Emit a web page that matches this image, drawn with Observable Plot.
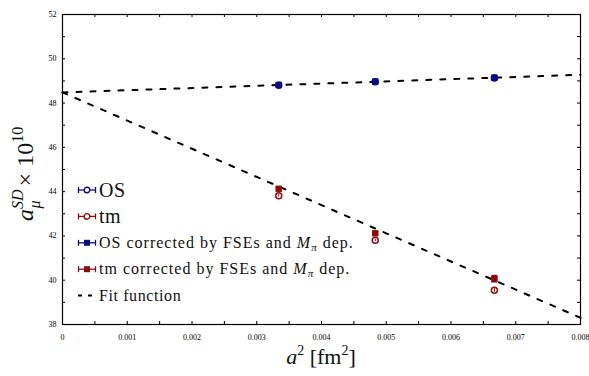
<!DOCTYPE html>
<html>
<head>
<meta charset="utf-8">
<script src="https://cdn.jsdelivr.net/npm/d3@7"></script>
<script src="https://cdn.jsdelivr.net/npm/@observablehq/plot@0.6"></script>
<style>
  html, body { margin: 0; padding: 0; background: #fff; }
  #chart { position: relative; width: 589px; height: 376px; }
</style>
</head>
<body>
<div id="chart"></div>
<script>
// ---- data ----
const a2 = [0.00334, 0.00483, 0.00667];            // lattice spacing squared [fm^2]
const osVals = [48.80, 48.96, 49.13];              // OS
const osErr = [0.05, 0.05, 0.06];
const tmVals = [43.82, 41.80, 39.55];              // tm
const tmErr = [0.06, 0.06, 0.10];
const osCorrVals = [48.82, 48.97, 49.15];          // OS corrected
const osCorrErr = [0.06, 0.05, 0.08];
const tmCorrVals = [44.13, 42.12, 40.05];          // tm corrected
const tmCorrErr = [0.08, 0.08, 0.17];
const fitOS = {intercept: 48.48, slope: 100};
const fitTM = {intercept: 48.48, slope: -1272};
const fitRange = [0, 0.008];
const xTicks = [0, 0.001, 0.002, 0.003, 0.004, 0.005, 0.006, 0.007, 0.008];
const xMinorTicks = d3.range(0, 0.00801, 0.0005);
const yTicks = [38, 40, 42, 44, 46, 48, 50, 52];
const yMinorTicks = d3.range(38, 52.01, 1);
const legendLabels = ["OS", "tm", "OS corrected by FSEs and ", "tm corrected by FSEs and ", "Fit function"];

const BLUE = "#0b0b8a", RED = "#8e0b0b";
const FONT = "'Liberation Serif', 'DejaVu Serif', serif";

const mk = (vals, errs) => a2.map((x, i) => ({x, y: vals[i], lo: vals[i] - errs[i], hi: vals[i] + errs[i]}));
const os = mk(osVals, osErr), tm = mk(tmVals, tmErr), osC = mk(osCorrVals, osCorrErr), tmC = mk(tmCorrVals, tmCorrErr);
const fitLine = (f) => fitRange.map(x => ({x, y: f.intercept + f.slope * x}));

const W = 589, H = 376, mL = 62, mR = 9, mT = 14, mB = 52;
const iw = W - mL - mR, ih = H - mT - mB;

const svg = Plot.plot({
  width: W, height: H,
  marginLeft: mL, marginRight: mR, marginTop: mT, marginBottom: mB,
  style: {fontFamily: FONT, background: "white", overflow: "visible", color: "#000"},
  x: {domain: [0, 0.008]},
  y: {domain: [38, 52]},
  marks: [
    // tick labels
    Plot.axisX(xTicks, {tickSize: 0, tickPadding: 10, fontSize: 8, fill: "black",
      tickFormat: d => d === 0 ? "0" : d3.format(".3f")(d), label: null}),
    Plot.axisY(yTicks, {tickSize: 0, tickPadding: 6, fontSize: 8, fill: "black", label: null}),
    // inward ticks on all four sides
    Plot.tickX(xMinorTicks, {x: d => d, insetTop: ih - 3, stroke: "#000"}),
    Plot.tickX(xMinorTicks, {x: d => d, insetBottom: ih - 3, stroke: "#000"}),
    Plot.tickY(yMinorTicks, {y: d => d, insetRight: iw - 3, stroke: "#000"}),
    Plot.tickY(yMinorTicks, {y: d => d, insetLeft: iw - 3, stroke: "#000"}),
    // fit lines
    Plot.line(fitLine(fitOS), {x: "x", y: "y", stroke: "#000", strokeWidth: 2, strokeDasharray: "5,9"}),
    Plot.line(fitLine(fitTM), {x: "x", y: "y", stroke: "#000", strokeWidth: 2, strokeDasharray: "5,9"}),
    // OS (open circles)
    Plot.ruleX(os, {x: "x", y1: "lo", y2: "hi", stroke: BLUE, strokeWidth: 1.5}),
    Plot.dot(os, {x: "x", y: "y", r: 3, stroke: BLUE, strokeWidth: 1.5, fill: "white"}),
    // tm (open circles)
    Plot.ruleX(tm, {x: "x", y1: "lo", y2: "hi", stroke: RED, strokeWidth: 1.5}),
    Plot.dot(tm, {x: "x", y: "y", r: 3, stroke: RED, strokeWidth: 1.5, fill: "white"}),
    Plot.ruleX(tm, {x: "x", y1: "lo", y2: "hi", stroke: RED, strokeWidth: 1}),
    // corrected (filled squares)
    Plot.ruleX(osC, {x: "x", y1: "lo", y2: "hi", stroke: BLUE, strokeWidth: 2}),
    Plot.dot(osC, {x: "x", y: "y", r: 3.6, symbol: "square", fill: BLUE}),
    Plot.ruleX(tmC, {x: "x", y1: "lo", y2: "hi", stroke: RED, strokeWidth: 6}),
    Plot.dot(tmC, {x: "x", y: "y", r: 3.6, symbol: "square", fill: RED}),
    Plot.frame({stroke: "#000", strokeWidth: 1.2})
  ]
});

const root = d3.select(svg);

// axis titles
const yl = root.append("text")
  .attr("transform", `translate(33,221) rotate(-90)`)
  .attr("text-anchor", "start")
  .style("font-family", FONT).style("font-size", "24px").attr("fill", "#111");
yl.append("tspan").attr("font-style", "italic").text("a");
yl.append("tspan").attr("font-style", "italic").attr("font-size", "16px").attr("dy", "-10").text("SD");
yl.append("tspan").attr("font-style", "italic").attr("font-size", "16px").attr("dx", "-19").attr("dy", "17").text("μ");
yl.append("tspan").attr("dy", "-7").attr("dx", "8").text(" × 10");
yl.append("tspan").attr("font-size", "16px").attr("dy", "-10").text("10");

const xl = root.append("text")
  .attr("x", mL + iw / 2).attr("y", 364)
  .attr("text-anchor", "middle")
  .style("font-family", FONT).style("font-size", "22px").attr("fill", "#111");
xl.append("tspan").attr("font-style", "italic").text("a");
xl.append("tspan").attr("font-size", "14px").attr("dy", "-9").text("2");
xl.append("tspan").attr("dy", "9").text(" [fm");
xl.append("tspan").attr("font-size", "14px").attr("dy", "-9").text("2");
xl.append("tspan").attr("dy", "9").text("]");

// legend
const rows = [
  {label: legendLabels[0], color: BLUE, kind: "circle", size: 20, ls: 0.5},
  {label: legendLabels[1], color: RED, kind: "circle", size: 20, ls: 0.5},
  {label: legendLabels[2], color: BLUE, kind: "square", size: 16, m: true, ls: 1},
  {label: legendLabels[3], color: RED, kind: "square", size: 16, m: true, ls: 1},
  {label: legendLabels[4], color: "#000", kind: "dash", size: 16, ls: 0.6}
];
const lg = root.append("g").attr("transform", "translate(78,190)").attr("text-anchor", "start");
rows.forEach((r, i) => {
  const g = lg.append("g").attr("transform", `translate(0,${i * 26.4})`);
  if (r.kind === "dash") {
    g.append("line").attr("x1", 0).attr("x2", 18).attr("y1", 0).attr("y2", 0)
      .attr("stroke", "#000").attr("stroke-width", 2).attr("stroke-dasharray", "4,6");
  } else {
    g.append("line").attr("x1", 0).attr("x2", 18).attr("stroke", r.color).attr("stroke-width", 1.3);
    g.append("line").attr("x1", 0.5).attr("x2", 0.5).attr("y1", -3).attr("y2", 3).attr("stroke", r.color).attr("stroke-width", 1.3);
    g.append("line").attr("x1", 17.5).attr("x2", 17.5).attr("y1", -3).attr("y2", 3).attr("stroke", r.color).attr("stroke-width", 1.3);
    if (r.kind === "circle") g.append("circle").attr("cx", 9).attr("r", 2.8).attr("fill", "white").attr("stroke", r.color).attr("stroke-width", 1.4);
    else g.append("rect").attr("x", 6).attr("y", -3).attr("width", 6).attr("height", 6).attr("fill", r.color);
  }
  const t = g.append("text").attr("x", 21).attr("y", r.size > 16 ? 7 : 5)
    .attr("text-anchor", "start")
    .style("font-family", FONT).style("font-size", r.size + "px").style("letter-spacing", r.ls + "px")
    .attr("fill", "#111")
    .text(r.label);
  if (r.m) {
    t.append("tspan").attr("font-style", "italic").text("M");
    t.append("tspan").attr("font-style", "italic").attr("font-size", "11px").attr("dy", "3").text("π");
    t.append("tspan").attr("dy", "-3").text(" dep.");
  }
});

document.getElementById("chart").appendChild(svg);
</script>
</body>
</html>
